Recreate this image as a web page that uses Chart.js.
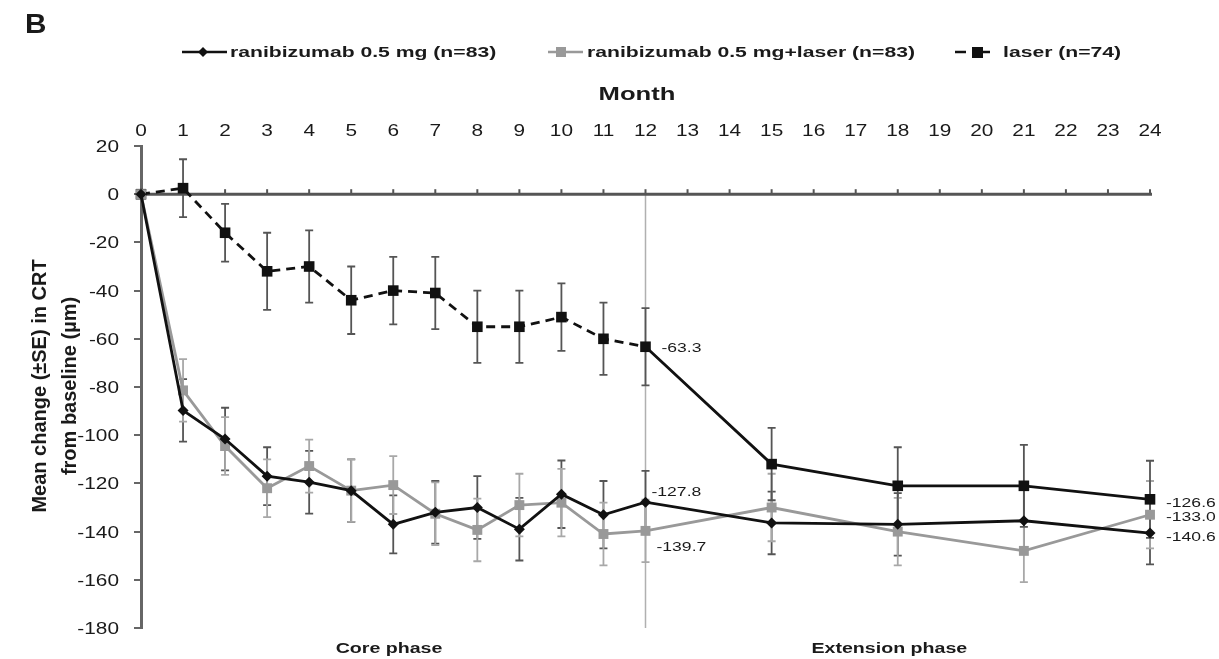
<!DOCTYPE html>
<html>
<head>
<meta charset="utf-8">
<script src="https://cdn.jsdelivr.net/npm/chart.js@4.4.0/dist/chart.umd.min.js"></script>
<style>
  html, body { margin: 0; padding: 0; background: #fff; }
  #wrap { width: 1219px; height: 659px; }
</style>
</head>
<body>
<div id="wrap"><canvas id="crt-chart" width="1219" height="659"></canvas></div>
<script>
// Meses com medição e rótulos do eixo superior
const months = [0, 1, 2, 3, 4, 5, 6, 7, 8, 9, 10, 11, 12, 15, 18, 21, 24];
const monthLabels = [0, 1, 2, 3, 4, 5, 6, 7, 8, 9, 10, 11, 12, 13, 14, 15, 16, 17, 18, 19, 20, 21, 22, 23, 24];

// ranibizumab 0.5 mg (n=83)
const raniMean = [0, -89.7, -101.6, -117, -119.5, -123, -137, -132, -130, -139, -124.5, -133, -127.8, -136.4, -137, -135.5, -140.6];
const raniSE = [0, 13, 13, 12, 13, 13, 12, 13, 13, 13, 14, 14, 13, 13, 13, 13, 13];

// ranibizumab 0.5 mg+laser (n=83)
const comboMean = [0, -81.4, -104.5, -122, -112.8, -123, -120.7, -132.6, -139.3, -129, -128, -141, -139.7, -130, -140, -148, -133.0];
const comboSE = [0, 13, 12, 12, 11, 13, 12, 13, 13, 13, 14, 13, 13, 14, 14, 13, 14];

// laser (n=74)
const laserMean = [0, 2.5, -16, -32, -30, -44, -40, -41, -55, -55, -51, -60, -63.3, -112, -121, -121, -126.6];
const laserSE = [0, 12, 12, 16, 15, 14, 14, 15, 15, 15, 14, 15, 16, 15, 16, 17, 16];

const FONT = '"Liberation Sans", Arial, sans-serif';

// texto esticado na horizontal (a figura original é achatada)
function drawText(ctx, str, x, y, size, weight, align, sx) {
    ctx.save();
    ctx.font = weight + ' ' + size + 'px ' + FONT;
    ctx.textBaseline = 'alphabetic';
    ctx.textAlign = 'left';
    const w = ctx.measureText(str).width * sx;
    let left = x;
    if (align === 'center') left = x - w / 2;
    else if (align === 'right') left = x - w;
    ctx.translate(left, y);
    ctx.scale(sx, 1);
    ctx.fillStyle = '#1a1a1a';
    ctx.fillText(str, 0, 0);
    ctx.restore();
}

const toPoints = vals => months.map((m, i) => ({ x: m, y: vals[i] }));

// linha do zero, linha vertical do mês 12 e barras de erro
const backgroundPlugin = {
    id: 'background',
    beforeDatasetsDraw(chart) {
        const ctx = chart.ctx;
        const xs = chart.scales.x, ys = chart.scales.y;
        const y0 = ys.getPixelForValue(0);

        ctx.save();
        // linha vertical no mês 12
        ctx.strokeStyle = '#b0b0b0';
        ctx.lineWidth = 1.5;
        ctx.beginPath();
        ctx.moveTo(xs.getPixelForValue(12), y0);
        ctx.lineTo(xs.getPixelForValue(12), ys.getPixelForValue(-180));
        ctx.stroke();

        // eixo dos meses em y = 0
        ctx.strokeStyle = '#555';
        ctx.lineWidth = 3;
        ctx.beginPath();
        ctx.moveTo(xs.getPixelForValue(0), y0);
        ctx.lineTo(xs.getPixelForValue(24) + 2, y0);
        ctx.stroke();
        ctx.lineWidth = 2;
        monthLabels.forEach(m => {
            const px = xs.getPixelForValue(m);
            ctx.beginPath();
            ctx.moveTo(px, y0);
            ctx.lineTo(px, y0 - 5);
            ctx.stroke();
        });

        // barras de erro (±SE)
        chart.data.datasets.forEach(ds => {
            ctx.strokeStyle = ds.errorColor;
            ctx.lineWidth = 1.8;
            ds.means.forEach((v, i) => {
                const se = ds.errors[i];
                if (!se) return;
                const px = xs.getPixelForValue(months[i]);
                const top = ys.getPixelForValue(v + se);
                const bot = ys.getPixelForValue(v - se);
                ctx.beginPath();
                ctx.moveTo(px, top); ctx.lineTo(px, bot);
                ctx.moveTo(px - 4, top); ctx.lineTo(px + 4, top);
                ctx.moveTo(px - 4, bot); ctx.lineTo(px + 4, bot);
                ctx.stroke();
            });
        });
        ctx.restore();
    }
};

// textos: rótulos dos eixos, legenda, valores finais
const textPlugin = {
    id: 'texts',
    afterDraw(chart) {
        const ctx = chart.ctx;
        const xs = chart.scales.x, ys = chart.scales.y;

        drawText(ctx, 'B', 25, 33, 27, 'bold', 'left', 1.1);

        // legenda
        const ly = 52;
        ctx.save();
        ctx.lineWidth = 2.5;
        ctx.strokeStyle = '#111';
        ctx.beginPath(); ctx.moveTo(182, ly); ctx.lineTo(227, ly); ctx.stroke();
        ctx.fillStyle = '#111';
        ctx.beginPath();
        ctx.moveTo(203, ly - 5); ctx.lineTo(208, ly); ctx.lineTo(203, ly + 5); ctx.lineTo(198, ly);
        ctx.closePath(); ctx.fill();

        ctx.strokeStyle = '#999';
        ctx.beginPath(); ctx.moveTo(548, ly); ctx.lineTo(583, ly); ctx.stroke();
        ctx.fillStyle = '#999';
        ctx.fillRect(556, ly - 5, 10, 10);

        ctx.strokeStyle = '#111';
        ctx.beginPath(); ctx.moveTo(955, ly); ctx.lineTo(966, ly); ctx.stroke();
        ctx.fillStyle = '#111';
        ctx.fillRect(972, ly - 5, 11, 11);
        ctx.beginPath(); ctx.moveTo(983, ly); ctx.lineTo(990, ly); ctx.stroke();
        ctx.restore();

        drawText(ctx, 'ranibizumab 0.5 mg (n=83)', 230, 57, 15, 'bold', 'left', 1.41);
        drawText(ctx, 'ranibizumab 0.5 mg+laser (n=83)', 587, 57, 15, 'bold', 'left', 1.41);
        drawText(ctx, 'laser (n=74)', 1003, 57, 15, 'bold', 'left', 1.41);

        // título e rótulos do eixo superior
        drawText(ctx, 'Month', 637, 100, 19, 'bold', 'center', 1.35);
        monthLabels.forEach(m => {
            drawText(ctx, String(m), xs.getPixelForValue(m), 136, 16, 'normal', 'center', 1.3);
        });

        // rótulos do eixo y
        ys.ticks.forEach(t => {
            drawText(ctx, String(t.value), 119, ys.getPixelForValue(t.value) + 6, 16, 'normal', 'right', 1.3);
        });

        // título do eixo y
        ctx.save();
        ctx.translate(0, 386);
        ctx.rotate(-Math.PI / 2);
        ctx.font = 'bold 20px ' + FONT;
        ctx.textAlign = 'center';
        ctx.textBaseline = 'alphabetic';
        ctx.fillStyle = '#1a1a1a';
        ctx.fillText('Mean change (\u00b1SE) in CRT', 0, 46);
        ctx.fillText('from baseline (\u00b5m)', 0, 76);
        ctx.restore();

        // fases
        drawText(ctx, 'Core phase', xs.getPixelForValue(5.9), 653, 14, 'bold', 'center', 1.4);
        drawText(ctx, 'Extension phase', xs.getPixelForValue(17.8), 653, 14, 'bold', 'center', 1.4);

        // valores no mês 12 e no mês 24
        const i12 = months.indexOf(12), i24 = months.indexOf(24);
        const x12 = xs.getPixelForValue(12), x24 = xs.getPixelForValue(24);
        drawText(ctx, laserMean[i12].toFixed(1), x12 + 16, ys.getPixelForValue(laserMean[i12]) + 5, 13, 'normal', 'left', 1.35);
        drawText(ctx, raniMean[i12].toFixed(1), x12 + 6, ys.getPixelForValue(raniMean[i12]) - 6, 13, 'normal', 'left', 1.35);
        drawText(ctx, comboMean[i12].toFixed(1), x12 + 11, ys.getPixelForValue(comboMean[i12]) + 20, 13, 'normal', 'left', 1.35);
        drawText(ctx, laserMean[i24].toFixed(1), x24 + 16, ys.getPixelForValue(laserMean[i24]) + 8, 13, 'normal', 'left', 1.35);
        drawText(ctx, comboMean[i24].toFixed(1), x24 + 16, ys.getPixelForValue(comboMean[i24]) + 6, 13, 'normal', 'left', 1.35);
        drawText(ctx, raniMean[i24].toFixed(1), x24 + 16, ys.getPixelForValue(raniMean[i24]) + 8, 13, 'normal', 'left', 1.35);
    }
};

const config = {
    type: 'line',
    data: {
        datasets: [{
            label: 'ranibizumab 0.5 mg (n=83)',
            data: toPoints(raniMean),
            means: raniMean,
            errors: raniSE,
            errorColor: '#555',
            borderColor: '#111',
            backgroundColor: '#111',
            borderWidth: 2.8,
            pointStyle: 'rectRot',
            pointRadius: 5.5,
            pointBorderWidth: 0,
            clip: false
        }, {
            label: 'ranibizumab 0.5 mg+laser (n=83)',
            data: toPoints(comboMean),
            means: comboMean,
            errors: comboSE,
            errorColor: '#a8a8a8',
            borderColor: '#999',
            backgroundColor: '#999',
            borderWidth: 2.8,
            pointStyle: 'rect',
            pointRadius: 7,
            pointBorderWidth: 0,
            clip: false
        }, {
            label: 'laser (n=74)',
            data: toPoints(laserMean),
            means: laserMean,
            errors: laserSE,
            errorColor: '#555',
            borderColor: '#111',
            backgroundColor: '#111',
            borderWidth: 2.8,
            pointStyle: 'rect',
            pointRadius: 7.5,
            pointBorderWidth: 0,
            segment: {
                borderDash: ctx => ctx.p1.parsed.x <= 12 ? [9, 6] : undefined
            },
            clip: false
        }]
    },
    options: {
        responsive: false,
        animation: false,
        layout: { padding: { top: 146, right: 69, bottom: 31, left: 0 } },
        plugins: {
            legend: { display: false },
            tooltip: { enabled: false }
        },
        scales: {
            x: { type: 'linear', min: 0, max: 24, display: false },
            y: {
                min: -180,
                max: 20,
                ticks: { stepSize: 20, display: false },
                grid: { drawOnChartArea: false, drawTicks: true, tickLength: 7, color: '#666', lineWidth: 2 },
                border: { display: true, color: '#666', width: 3 },
                afterFit: s => { s.width = 141; }
            }
        }
    },
    plugins: [backgroundPlugin, textPlugin]
};

const crtChart = new Chart(document.getElementById('crt-chart'), config);
</script>
</body>
</html>
